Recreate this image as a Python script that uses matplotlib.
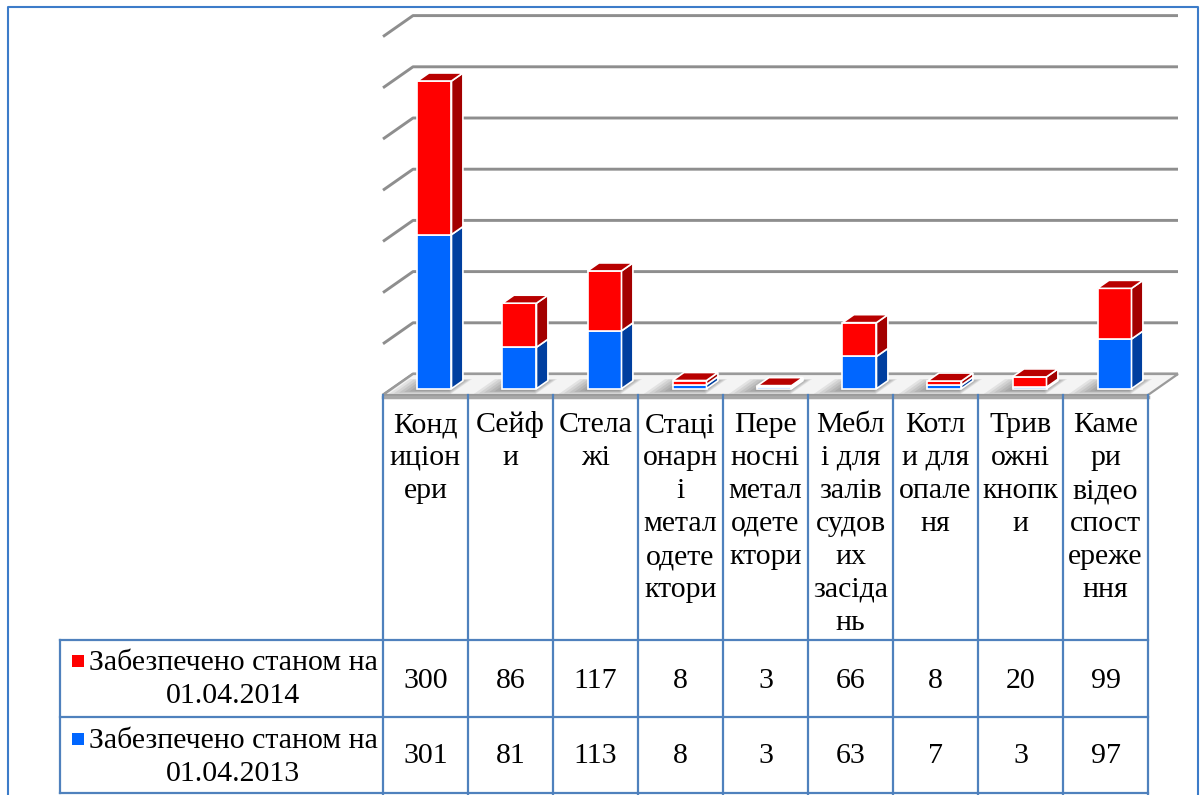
import matplotlib.pyplot as plt
from matplotlib.patches import Polygon, Rectangle
from matplotlib.transforms import Affine2D

plt.rcParams['font.family'] = ['Liberation Serif', 'DejaVu Serif']

# categories, wrapped the way they sit in the narrow table columns
categories = [
    ['Конд', 'иціон', 'ери'],
    ['Сейф', 'и'],
    ['Стела', 'жі'],
    ['Стаці', 'онарн', 'і', 'метал', 'одете', 'ктори'],
    ['Пере', 'носні', 'метал', 'одете', 'ктори'],
    ['Мебл', 'і для', 'залів', 'судов', 'их', 'засіда', 'нь'],
    ['Котл', 'и для', 'опале', 'ня'],
    ['Трив', 'ожні', 'кнопк', 'и'],
    ['Каме', 'ри', 'відео', 'спост', 'ереже', 'ння'],
]
values_2014 = [300, 86, 117, 8, 3, 66, 8, 20, 99]
values_2013 = [301, 81, 113, 8, 3, 63, 7, 3, 97]
series_labels = [['Забезпечено станом на', '01.04.2014'],
                 ['Забезпечено станом на', '01.04.2013']]
grid_values = [0, 100, 200, 300, 400, 500, 600, 700]

red, red_dark, red_top = '#ff0000', '#a30000', '#b80000'
blue, blue_dark = '#0066ff', '#003f9f'
grid_col = '#8e8e8e'
table_col = '#4f81bd'
txt = '#000000'

W, H = 1200, 795
fig = plt.figure(figsize=(12, 7.95), dpi=100)
ax = fig.add_axes([0, 0, 1, 1])
ax.axis('off')

# pixel geometry of the plot box
cw = 85.0      # column width
vs = 0.512     # pixels per unit
x0, y0 = 383, 395
ax.set_xlim(-0.5 - x0 / cw, -0.5 + (W - x0) / cw)
ax.set_ylim((y0 - H) / vs, y0 / vs)

# oblique projection of the depth axis (z = 0 front, z = 1 back wall)
dx = 30 / cw
dy = 21 / vs
n = len(values_2014)


def proj(x, v, z):
    return x + z * dx, v + z * dy


# walls: gridlines on the left wall and back wall
for g in grid_values:
    a = proj(-0.5, g, 0)
    b = proj(-0.5, g, 1)
    c = proj(n - 0.5, g, 1)
    ax.plot([a[0], b[0], c[0]], [a[1], b[1], c[1]], color=grid_col,
            lw=2.1, solid_capstyle='butt', zorder=1)

# floor
floor = [proj(-0.5, 0, 0), proj(n - 0.5, 0, 0), proj(n - 0.5, 0, 1), proj(-0.5, 0, 1)]
ax.add_patch(Polygon(floor, closed=True, facecolor='#f4f4f4',
                     edgecolor='#9a9a9a', lw=1.6, zorder=2))
fa, fb = proj(-0.5, 0, 0), proj(n - 0.5, 0, 0)
ax.plot([fa[0], fb[0]], [fa[1] - 1.5 / vs, fb[1] - 1.5 / vs], color='#a8a8a8',
        lw=2.5, zorder=2)

# bars
bw = 0.4
z0, bd = 0.3, 0.38
xs = [i + z0 * dx for i in range(n)]
base = [z0 * dy] * n
tops_2013 = [b + v for b, v in zip(base, values_2013)]

# soft shadows on the floor
for i in range(n):
    for k in range(6):
        s = 0.05 * k
        xl = xs[i] - bw / 2 - 0.25 + s
        xr = xs[i] + bw / 2 + 0.08 - s * 0.3
        za, zb = 0.05 + s * 0.6, z0 + bd + 0.08 - s * 0.4
        pts = [proj(xl - z0 * dx, 0, za), proj(xr - z0 * dx, 0, za),
               proj(xr - z0 * dx, 0, zb), proj(xl - z0 * dx, 0, zb)]
        ax.add_patch(Polygon(pts, closed=True, facecolor='#000000',
                             edgecolor='none', alpha=0.07, zorder=3))

ax.bar(xs, values_2013, width=bw, bottom=base, color=blue,
       edgecolor='white', lw=1.2, zorder=4)
ax.bar(xs, values_2014, width=bw, bottom=tops_2013, color=red,
       edgecolor='white', lw=1.2, zorder=4)

ox, oy = bd * dx, bd * dy
for i in range(n):
    xr = xs[i] + bw / 2
    xl = xs[i] - bw / 2
    segs = [(base[i], tops_2013[i], blue_dark),
            (tops_2013[i], tops_2013[i] + values_2014[i], red_dark)]
    for b, t, col in segs:
        side = [(xr, b), (xr, t), (xr + ox, t + oy), (xr + ox, b + oy)]
        ax.add_patch(Polygon(side, closed=True, facecolor=col,
                             edgecolor='white', lw=1.2, zorder=4))
    t = tops_2013[i] + values_2014[i]
    top = [(xl, t), (xr, t), (xr + ox, t + oy), (xl + ox, t + oy)]
    ax.add_patch(Polygon(top, closed=True, facecolor=red_top,
                         edgecolor='white', lw=1.2, zorder=4))

# data table below the plot, in pixel coordinates
pt = Affine2D().scale(1 / W, -1 / H).translate(0, 1) + fig.transFigure
fs = 21.5

for k in range(n + 1):
    x = x0 + cw * k
    ax.plot([x, x], [y0, 795], color=table_col, lw=1.6, transform=pt,
            clip_on=False, zorder=5)
for y in [640, 717, 793]:
    ax.plot([60, x0 + cw * n], [y, y], color=table_col, lw=1.6, transform=pt,
            clip_on=False, zorder=5)
ax.plot([60, 60], [640, 793], color=table_col, lw=1.6, transform=pt,
        clip_on=False, zorder=5)

for i, lines in enumerate(categories):
    for j, line in enumerate(lines):
        ax.text(x0 + cw * (i + 0.5), 432 + 33 * j, line, transform=pt,
                ha='center', va='baseline', fontsize=fs, color=txt)

for i in range(n):
    ax.text(x0 + cw * (i + 0.5), 688, str(values_2014[i]), transform=pt,
            ha='center', va='baseline', fontsize=fs, color=txt)
    ax.text(x0 + cw * (i + 0.5), 763, str(values_2013[i]), transform=pt,
            ha='center', va='baseline', fontsize=fs, color=txt)

for (l1, l2), col, yb in zip(series_labels, [red, blue], [670, 748]):
    ax.add_patch(Rectangle((72, yb - 15), 12, 12, facecolor=col,
                           edgecolor='none', transform=pt, clip_on=False))
    ax.text(233, yb, l1, transform=pt, ha='center', va='baseline',
            fontsize=fs, color=txt)
    ax.text(233, yb + 33, l2, transform=pt, ha='center', va='baseline',
            fontsize=fs, color=txt)

# outer frame
ax.plot([8, 8, 1198, 1198], [795, 7, 7, 795], color='#3d7cc9', lw=1.5,
        transform=pt, clip_on=False, zorder=6)

fig.savefig('out.png', dpi=100)
